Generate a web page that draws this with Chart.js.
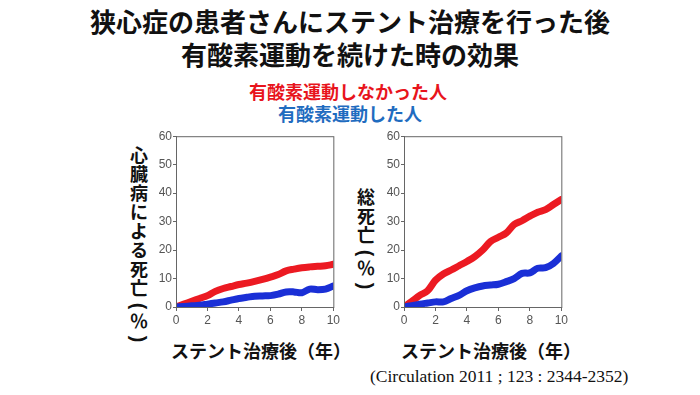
<!DOCTYPE html>
<html>
<head>
<meta charset="utf-8">
<script src="https://cdn.jsdelivr.net/npm/chart.js@4"></script>
<style>
  body { margin: 0; width: 700px; height: 395px; background: #fff; position: relative; overflow: hidden; font-family: "Noto Sans CJK JP", sans-serif; }
  .t { position: absolute; white-space: nowrap; font-weight: bold; }
  .vert { position: absolute; width: 22px; text-align: center; font-weight: bold; font-size: 18px; line-height: 19px; color: #111; }
  .vert .p { height: 14px; line-height: 14px; }
  .vert .p span { display: inline-block; transform: rotate(90deg) scale(1.1); font-family: "Liberation Sans", sans-serif; font-weight: bold; }
  canvas { position: absolute; }
</style>
</head>
<body>
<div class="t" style="left:0;width:700px;text-align:center;top:4px;font-size:26px;color:#111;line-height:33px">狭心症の患者さんにステント治療を行った後<br>有酸素運動を続けた時の効果</div>
<div class="t" style="left:188px;width:320px;text-align:center;top:78px;font-size:18px;color:#e8141c">有酸素運動しなかった人</div>
<div class="t" style="left:190px;width:320px;text-align:center;top:100px;font-size:18px;color:#1f6cc0">有酸素運動した人</div>
<div class="vert" style="left:128px;top:145px">
  <div>心</div><div>臓</div><div>病</div><div>に</div><div>よ</div><div>る</div><div>死</div><div>亡</div>
  <div class="p"><span>(</span></div><div>％</div><div class="p"><span>)</span></div>
</div>
<div class="vert" style="left:355px;top:187px">
  <div>総</div><div>死</div><div>亡</div>
  <div class="p"><span>(</span></div><div>％</div><div class="p"><span>)</span></div>
</div>
<div class="t" style="left:171px;top:337px;font-size:18px;color:#111">ステント治療後（年）</div>
<div class="t" style="left:401px;top:337px;font-size:18px;color:#111">ステント治療後（年）</div>
<div class="t" style="left:370px;top:366px;font-size:17.5px;font-weight:normal;color:#111;font-family:'Liberation Serif',serif">(Circulation 2011 ; 123 : 2344-2352)</div>

<canvas id="c1" width="192" height="201" style="left:150px;top:128px"></canvas>
<canvas id="c2" width="192" height="201" style="left:378px;top:128px"></canvas>

<script>
// years after stenting, every half year
const years = [0, 0.5, 1, 1.5, 2, 2.5, 3, 3.5, 4, 4.5, 5, 5.5, 6, 6.5, 7, 7.5, 8, 8.5, 9, 9.5, 10]

// cardiac death (%)
const cardiacNoExercise = [0, 1, 2, 3, 4, 5.5, 6.5, 7.2, 7.9, 8.4, 9, 9.7, 10.5, 11.4, 12.7, 13.3, 13.8, 14.1, 14.3, 14.5, 15]
const cardiacExercise = [0, 0.2, 0.4, 0.6, 1, 1.4, 1.8, 2.4, 3, 3.4, 3.8, 3.9, 4, 4.5, 5.3, 5.3, 5, 6.3, 6.1, 6.3, 7.4]

// all-cause death (%)
const totalNoExercise = [0, 2, 4.1, 5.7, 9.4, 11.6, 13, 14.5, 16, 17.7, 20, 23, 24.5, 26, 29, 30.3, 31.9, 33.3, 34.2, 36, 37.8]
const totalExercise = [0, 0.5, 1, 1.4, 1.8, 1.8, 3, 4.1, 5.7, 6.7, 7.4, 7.7, 8, 8.9, 10, 11.8, 12, 13.6, 13.8, 15.3, 17.9]

const xTicks = [0, 2, 4, 6, 8, 10]
const yTicks = [0, 10, 20, 30, 40, 50, 60]

const RED = '#ec1a22'
const BLUE = '#1a2fd6'

const boxPlugin = {
  id: 'box',
  afterDraw(chart) {
    const { ctx, chartArea: a } = chart
    ctx.save()
    ctx.strokeStyle = '#666'
    ctx.lineWidth = 1
    ctx.strokeRect(a.left + 0.5, a.top + 0.5, a.right - a.left, a.bottom - a.top)
    ctx.restore()
  },
}

function makeChart(id, noEx, ex) {
  const pts = arr => arr.map((v, i) => ({ x: years[i], y: v }))
  return new Chart(document.getElementById(id), {
    type: 'line',
    data: {
      datasets: [
        { data: pts(ex), borderColor: BLUE, borderWidth: 7, pointRadius: 0, tension: 0.35, borderCapStyle: 'round', borderJoinStyle: 'round' },
        { data: pts(noEx), borderColor: RED, borderWidth: 7, pointRadius: 0, tension: 0.35, borderCapStyle: 'round', borderJoinStyle: 'round' },
      ],
    },
    options: {
      responsive: false,
      animation: false,
      layout: { padding: { top: 5, right: 5, left: 0, bottom: 0 } },
      plugins: { legend: { display: false }, tooltip: { enabled: false } },
      scales: {
        x: {
          type: 'linear', min: 0, max: 10,
          afterBuildTicks: s => { s.ticks = xTicks.map(v => ({ value: v })) },
          afterFit: s => { s.height = 22 },
          grid: { display: true, drawOnChartArea: false, tickLength: 4, color: '#666' },
          border: { color: '#666' },
          ticks: { color: '#555', font: { family: 'Liberation Sans Narrow, Liberation Sans', size: 12 }, padding: 2, maxRotation: 0 },
        },
        y: {
          min: 0, max: 60,
          afterBuildTicks: s => { s.ticks = yTicks.map(v => ({ value: v })) },
          afterFit: s => { s.width = 26 },
          grid: { display: true, drawOnChartArea: false, tickLength: 3, color: '#666' },
          border: { color: '#666' },
          ticks: { color: '#555', font: { family: 'Liberation Sans Narrow, Liberation Sans', size: 12 }, padding: 1 },
        },
      },
    },
    plugins: [boxPlugin],
  })
}

makeChart('c1', cardiacNoExercise, cardiacExercise)
makeChart('c2', totalNoExercise, totalExercise)
</script>
</body>
</html>
